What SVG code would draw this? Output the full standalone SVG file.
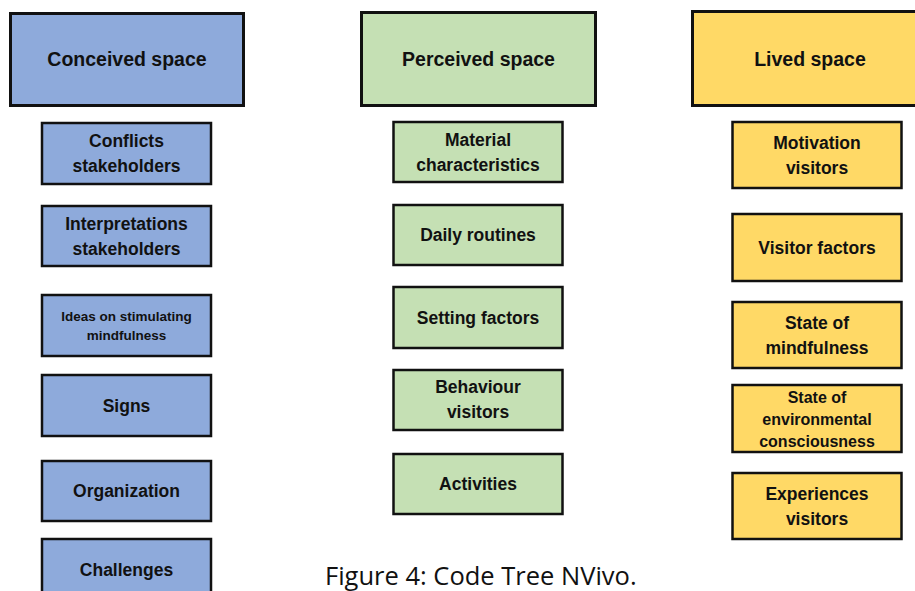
<svg xmlns="http://www.w3.org/2000/svg" width="915" height="591" viewBox="0 0 915 591">
<style>
.b{fill:#8EAADB}.g{fill:#C5E0B4}.y{fill:#FFD966}
.b,.g,.y{stroke:#111;stroke-width:2.5}
.h{stroke-width:3}
text{font-family:"Liberation Sans",Arial,sans-serif;font-weight:bold;fill:#111;text-anchor:middle}
.t1{font-size:19.5px}.t2{font-size:17.5px}.t3{font-size:13.5px}.t4{font-size:16px}
.cap{font-family:"Open Sans","Liberation Sans",sans-serif;font-weight:normal;font-size:25.5px;text-anchor:start}
</style>
<rect width="915" height="591" fill="#fff"/>
<g id="conceived">
<rect class="b h" x="10.5" y="13.5" width="233" height="92"/>
<text class="t1" x="127" y="66">Conceived space</text>
</g>
<g id="conflicts"><rect class="b" x="42" y="123" width="169" height="61"/><text class="t2" x="126.5" y="147">Conflicts</text><text class="t2" x="126.5" y="172">stakeholders</text></g>
<g id="interpretations"><rect class="b" x="42" y="206" width="169" height="60"/><text class="t2" x="126.5" y="230">Interpretations</text><text class="t2" x="126.5" y="255">stakeholders</text></g>
<g id="ideas"><rect class="b" x="42" y="295" width="169" height="61"/><text class="t3" x="126.5" y="321">Ideas on stimulating</text><text class="t3" x="126.5" y="340">mindfulness</text></g>
<g id="signs"><rect class="b" x="42" y="375" width="169" height="61"/><text class="t2" x="126.5" y="412">Signs</text></g>
<g id="organization"><rect class="b" x="42" y="461" width="169" height="60"/><text class="t2" x="126.5" y="497">Organization</text></g>
<g id="challenges"><rect class="b" x="42" y="539" width="169" height="60"/><text class="t2" x="126.5" y="576">Challenges</text></g>

<g id="perceived">
<rect class="g h" x="361.5" y="12.5" width="234" height="93"/>
<text class="t1" x="478.5" y="66">Perceived space</text>
</g>
<g id="material"><rect class="g" x="393.5" y="122" width="169" height="60"/><text class="t2" x="478" y="146">Material</text><text class="t2" x="478" y="171">characteristics</text></g>
<g id="daily"><rect class="g" x="393.5" y="205" width="169" height="60"/><text class="t2" x="478" y="241">Daily routines</text></g>
<g id="setting"><rect class="g" x="393.5" y="287" width="169" height="61"/><text class="t2" x="478" y="324">Setting factors</text></g>
<g id="behaviour"><rect class="g" x="393.5" y="370" width="169" height="60"/><text class="t2" x="478" y="393">Behaviour</text><text class="t2" x="478" y="418">visitors</text></g>
<g id="activities"><rect class="g" x="393.5" y="454" width="169" height="60"/><text class="t2" x="478" y="490">Activities</text></g>

<g id="lived">
<rect class="y h" x="692.5" y="11.5" width="240" height="94"/>
<text class="t1" x="810" y="66">Lived space</text>
</g>
<g id="motivation"><rect class="y" x="732.5" y="122" width="169" height="66"/><text class="t2" x="817" y="149">Motivation</text><text class="t2" x="817" y="174">visitors</text></g>
<g id="visitorfactors"><rect class="y" x="732.5" y="214" width="169" height="67"/><text class="t2" x="817" y="254">Visitor factors</text></g>
<g id="mindfulness"><rect class="y" x="732.5" y="302" width="169" height="66"/><text class="t2" x="817" y="329">State of</text><text class="t2" x="817" y="354">mindfulness</text></g>
<g id="environmental"><rect class="y" x="732.5" y="385" width="169" height="67"/><text class="t4" x="817" y="403">State of</text><text class="t4" x="817" y="425">environmental</text><text class="t4" x="817" y="447">consciousness</text></g>
<g id="experiences"><rect class="y" x="732.5" y="473" width="169" height="66"/><text class="t2" x="817" y="500">Experiences</text><text class="t2" x="817" y="525">visitors</text></g>

<g id="connectors"></g>
<text class="cap" x="325" y="585">Figure 4: Code Tree NVivo.</text>
</svg>
